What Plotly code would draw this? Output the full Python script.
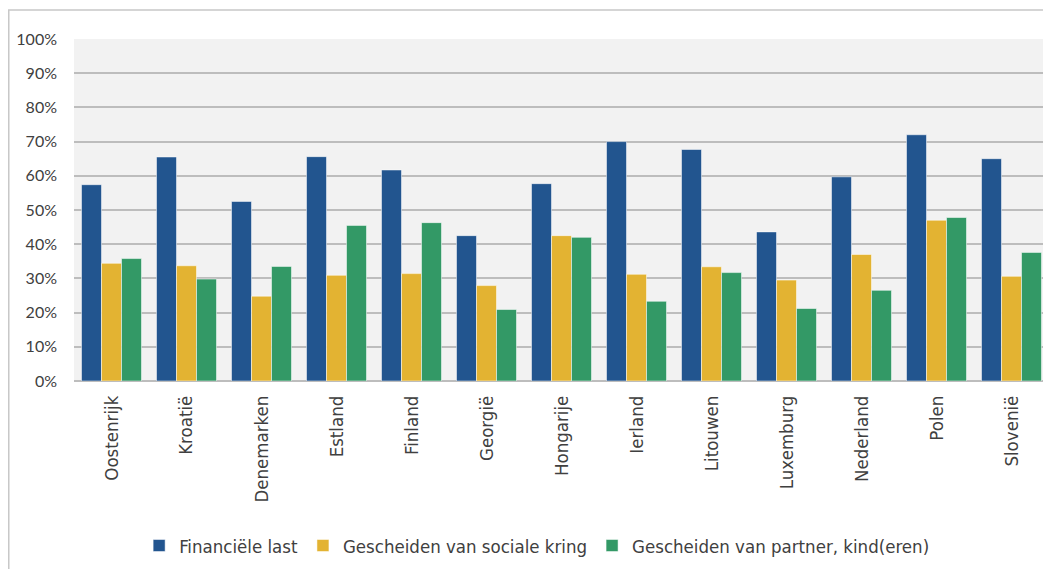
import plotly.graph_objects as go

landen = ["Oostenrijk", "Kroatië", "Denemarken", "Estland", "Finland", "Georgië",
          "Hongarije", "Ierland", "Litouwen", "Luxemburg", "Nederland", "Polen", "Slovenië"]
financiele_last = [57.4, 65.5, 52.5, 65.6, 61.7, 42.5, 57.7, 70.0, 67.7, 43.6, 59.7, 72.0, 65.0]
sociale_kring = [34.4, 33.7, 24.8, 30.9, 31.4, 27.9, 42.5, 31.2, 33.4, 29.5, 37.0, 47.0, 30.6]
partner_kind = [35.8, 29.8, 33.5, 45.5, 46.3, 20.9, 42.0, 23.3, 31.7, 21.2, 26.5, 47.8, 37.6]
y_ticks = [0, 10, 20, 30, 40, 50, 60, 70, 80, 90, 100]

series = [
    ("Financiële last", financiele_last, "#22558f"),
    ("Gescheiden van sociale kring", sociale_kring, "#e3b332"),
    ("Gescheiden van partner, kind(eren)", partner_kind, "#339966"),
]

COND = "DejaVu Sans Condensed, DejaVu Sans"

fig = go.Figure()
for name, vals, col in series:
    fig.add_trace(go.Bar(
        x=landen, y=vals, name=name,
        marker=dict(color=col, line=dict(color="rgba(255,255,255,0.5)", width=1)),
    ))

# page body has an 8px margin: figure is sized/offset to compensate
fig.update_layout(
    width=1043, height=561,
    margin=dict(l=66, r=2, t=31, b=188, autoexpand=False),
    paper_bgcolor="white",
    plot_bgcolor="#f2f2f2",
    barmode="group",
    bargap=0.2,
    bargroupgap=0,
    font=dict(family=COND, color="#404040", size=18.5),
    legend=dict(
        orientation="h", x=0.475, xanchor="center",
        yref="container", y=0.041, yanchor="middle",
        font=dict(family=COND, size=18.5, color="#404040"),
        itemwidth=30, traceorder="normal",
    ),
    xaxis=dict(
        tickangle=-90, showgrid=False, ticks="", automargin=False,
        tickfont=dict(family=COND, size=18.5, color="#404040"),
        showline=False, ticklabelstandoff=10,
    ),
    yaxis=dict(
        range=[0, 100], tickvals=y_ticks, ticktext=[f"{v}%" for v in y_ticks],
        showgrid=True, gridcolor="#bdbdbd", gridwidth=2, automargin=False,
        zeroline=True, zerolinecolor="#bdbdbd", zerolinewidth=2,
        tickfont=dict(family="Lato", size=16, color="#404040"),
        ticks="", ticklabelstandoff=16,
    ),
    shapes=[dict(
        type="rect", xref="paper", yref="paper",
        x0=-0.0669, x1=1.02, y0=-0.6, y1=1.0848,
        line=dict(color="#c8c8c8", width=1.5), fillcolor="rgba(0,0,0,0)", layer="below",
    )],
)

fig.write_html("out.html")
